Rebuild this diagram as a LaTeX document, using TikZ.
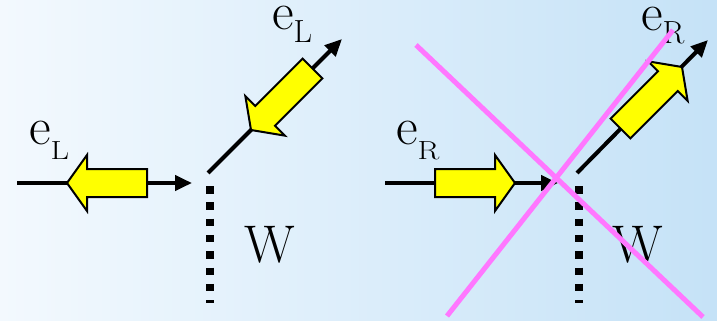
\documentclass[tikz,border=0pt]{standalone}
\usepackage{graphicx}
\usetikzlibrary{arrows.meta}
\definecolor{bgl}{HTML}{F3F9FE}
\definecolor{bgr}{HTML}{C5E2F7}
\definecolor{pinkx}{HTML}{FF77FF}
\definecolor{yel}{HTML}{FFFF00}
\newcommand\mainsz{\fontsize{53}{60}\selectfont}
\newcommand\subbig[1]{\raisebox{-13.5pt}{\fontsize{32}{32}\selectfont #1}}
\newcommand\subflat[1]{\raisebox{-15pt}{\scalebox{1}[0.82]{\fontsize{32}{32}\selectfont #1}}}
\newcommand\yarr[3]{\draw[yarrow, shift={#1}, rotate=#2] (0,0) -- (-20,28) -- (-20,14) -- (-#3,14) -- (-#3,-14) -- (-20,-14) -- (-20,-28) -- cycle;}
\tikzset{
  wire/.style={line width=4pt, -{Triangle[length=17pt,width=15pt]}},
  yarrow/.style={fill=yel, draw=black, line width=2pt, line join=miter},
  wall/.style={line width=8pt, dash pattern=on 7.5pt off 8.8pt},
  cross/.style={draw=pinkx, line width=5pt},
  lbl/.style={inner sep=0pt, anchor=base west}
}
\begin{document}
\begin{tikzpicture}[x=1pt,y=-1pt]
\shade[left color=bgl,right color=bgr] (0,0) rectangle (717,321);
\useasboundingbox (0,0) rectangle (717,321);
% coordinates
\coordinate (a1) at (17,183);  \coordinate (a2) at (192,183);
\coordinate (b1) at (208,173); \coordinate (b2) at (342,39);
\coordinate (c1) at (385,183); \coordinate (c2) at (558,183);
\coordinate (d1) at (577,173); \coordinate (d2) at (708,40);
\coordinate (w1t) at (210,186); \coordinate (w1b) at (210,303);
\coordinate (w2t) at (579,186); \coordinate (w2b) at (579,303);
\coordinate (p1) at (416,45);  \coordinate (p2) at (703,317);
\coordinate (p3) at (447,316); \coordinate (p4) at (673,30);
% black wires
\draw[wire] (a1) -- (a2);
\draw[wire] (b1) -- (b2);
\draw[wire] (c1) -- (c2);
\draw[wire] (d1) -- (d2);
% yellow arrows
\yarr{(67,183)}{180}{80}
\yarr{(251,130)}{225}{87}
\yarr{(515,183)}{0}{80}
\yarr{(682,67)}{45}{87}
% walls
\draw[wall] (w1t) -- (w1b);
\draw[wall] (w2t) -- (w2b);
% labels
\node[lbl] (eL1) at (29,144) {\mainsz e\subflat{L}};
\node[lbl] (eL2) at (272,29.5) {\mainsz e\subbig{L}};
\node[lbl] (eR1) at (396,144) {\mainsz e\subflat{R}};
\node[lbl] (eR2) at (641,30.5) {\mainsz e\subbig{R}};
\node[lbl] (W1) at (244,262) {\mainsz W};
\node[lbl] (W2) at (612,262) {\mainsz W};
% cross
\draw[cross] (p1) -- (p2);
\draw[cross] (p3) -- (p4);
\end{tikzpicture}
\end{document}
